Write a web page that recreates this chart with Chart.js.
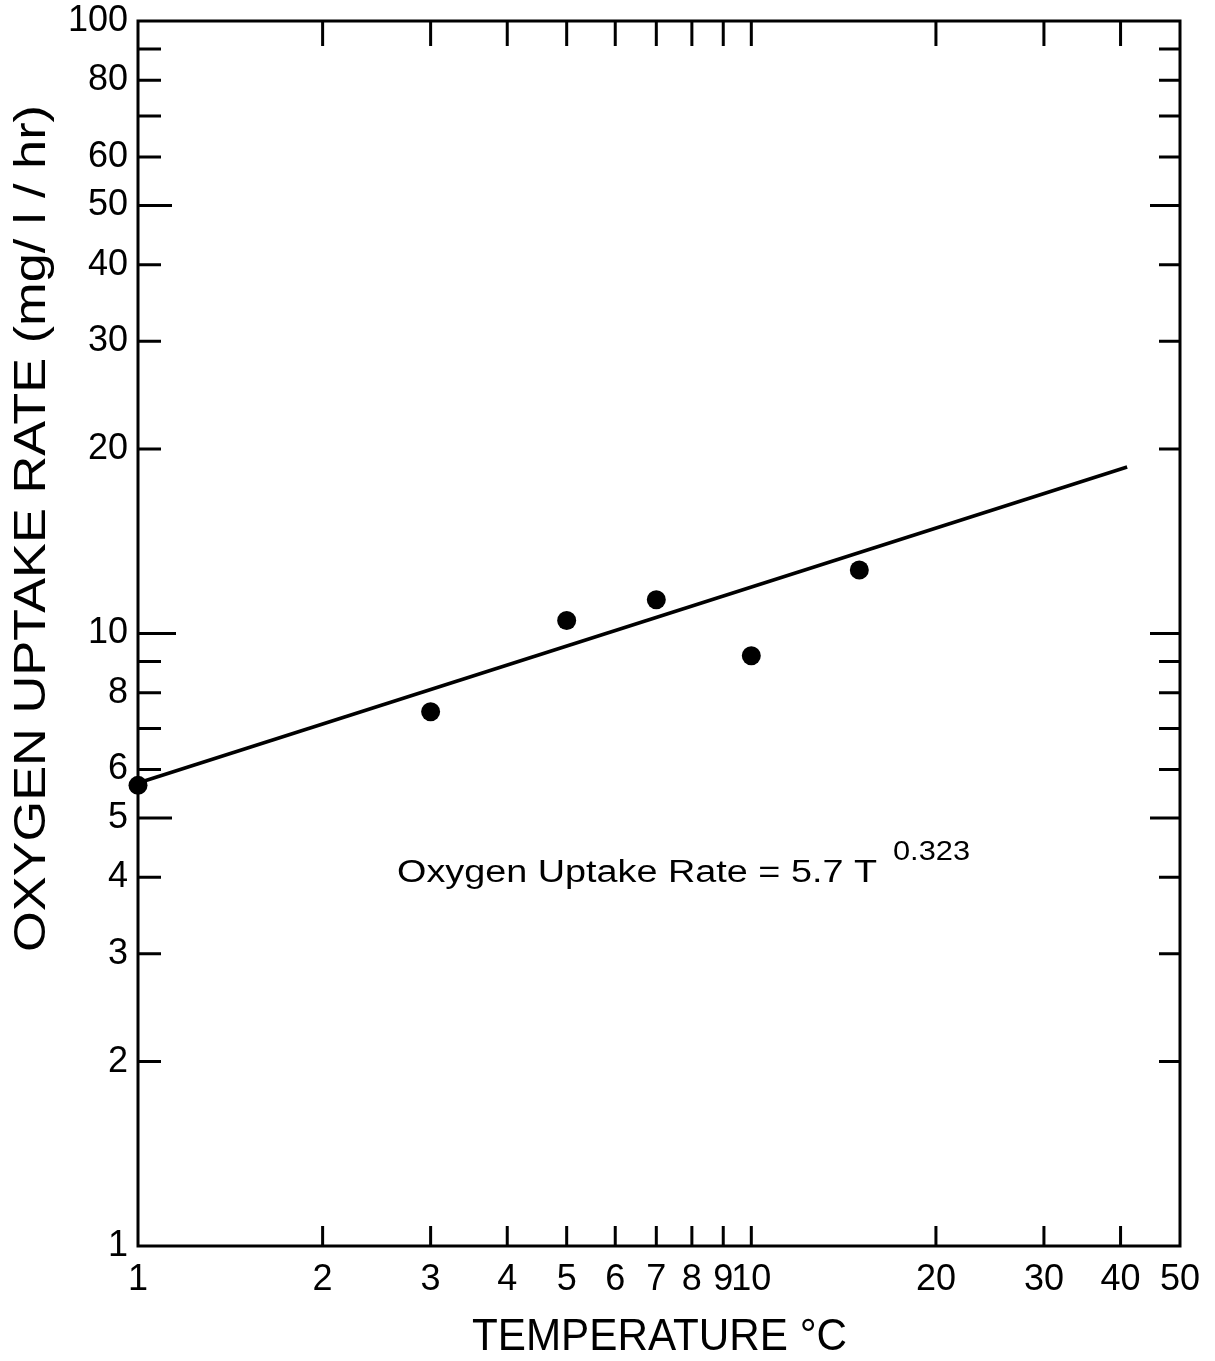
<!DOCTYPE html>
<html>
<head>
<meta charset="utf-8">
<script src="https://cdn.jsdelivr.net/npm/chart.js@4.4.1/dist/chart.umd.min.js"></script>
<style>
  html, body { margin: 0; padding: 0; background: #fff; }
  canvas { display: block; }
</style>
</head>
<body>
<canvas id="c" width="1215" height="1361"></canvas>
<script>
// ---- data ----
const tempC = [1, 3, 5, 7, 10, 15];
const uptakeRate = [5.65, 7.45, 10.5, 11.35, 9.2, 12.7];
const fitTemp = [1, 41];
const fitRate = [5.7, 18.7];

const xTickValues = [1, 2, 3, 4, 5, 6, 7, 8, 9, 10, 20, 30, 40, 50];
const xTickLabels = ['1', '2', '3', '4', '5', '6', '7', '8', '9', '10', '20', '30', '40', '50'];
const yTickValues = [1, 2, 3, 4, 5, 6, 7, 8, 9, 10, 20, 30, 40, 50, 60, 70, 80, 90, 100];
const yTickLabels = ['1', '2', '3', '4', '5', '6', '', '8', '', '10', '20', '30', '40', '50', '60', '', '80', '', '100'];

const xTitle = 'TEMPERATURE °C';
const yTitle = 'OXYGEN UPTAKE RATE (mg/ l / hr)';
const equationText = 'Oxygen Uptake Rate = 5.7 T';
const equationExp = '0.323';

const FAMILY = "'Liberation Sans', Arial, sans-serif";

function fitText(ctx, text, x, y, targetW) {
  const w = ctx.measureText(text).width;
  ctx.save();
  ctx.translate(x, y);
  ctx.scale(targetW / w, 1);
  ctx.fillText(text, 0, 0);
  ctx.restore();
}

const framePlugin = {
  id: 'frame',
  afterDatasetsDraw(chart) {
    const { ctx, chartArea: a, scales } = chart;
    const xs = scales.x, ys = scales.y;
    ctx.save();
    ctx.strokeStyle = '#000';
    ctx.lineCap = 'butt';
    ctx.lineWidth = 3;
    xTickValues.forEach(v => {
      if (v === 1 || v === 50) return;
      const px = xs.getPixelForValue(v);
      ctx.beginPath();
      ctx.moveTo(px, a.bottom); ctx.lineTo(px, a.bottom - 20);
      ctx.moveTo(px, a.top); ctx.lineTo(px, a.top + 25);
      ctx.stroke();
    });
    yTickValues.forEach(v => {
      if (v === 1 || v === 100) return;
      const py = ys.getPixelForValue(v);
      const m = Math.round(v / Math.pow(10, Math.floor(Math.log10(v) + 1e-9)));
      const lenL = m === 1 ? 38 : (m === 5 ? 34 : 23);
      const lenR = m === 1 ? 30 : (m === 5 ? 30 : 21);
      ctx.beginPath();
      ctx.moveTo(a.left, py); ctx.lineTo(a.left + lenL, py);
      ctx.moveTo(a.right, py); ctx.lineTo(a.right - lenR, py);
      ctx.stroke();
    });
    ctx.lineWidth = 3;
    ctx.strokeRect(a.left, a.top, a.right - a.left, a.bottom - a.top);

    ctx.fillStyle = '#000';
    ctx.textBaseline = 'alphabetic';
    ctx.textAlign = 'left';
    ctx.font = '45px ' + FAMILY;
    fitText(ctx, xTitle, 472, 1350, 375);

    ctx.save();
    ctx.translate(45, 952);
    ctx.rotate(-Math.PI / 2);
    ctx.font = '45px ' + FAMILY;
    fitText(ctx, yTitle, 0, 0, 847);
    ctx.restore();

    ctx.font = '31px ' + FAMILY;
    fitText(ctx, equationText, 397, 882, 480);
    ctx.font = '27px ' + FAMILY;
    fitText(ctx, equationExp, 893, 860, 77);
    ctx.restore();
  }
};

new Chart(document.getElementById('c'), {
  type: 'scatter',
  data: {
    datasets: [
      {
        type: 'line',
        data: fitTemp.map((t, i) => ({ x: t, y: fitRate[i] })),
        borderColor: '#000',
        borderWidth: 3.5,
        pointRadius: 0,
        fill: false,
        tension: 0,
        clip: false
      },
      {
        data: tempC.map((t, i) => ({ x: t, y: uptakeRate[i] })),
        backgroundColor: '#000',
        borderColor: '#000',
        borderWidth: 0,
        pointRadius: 9.5,
        clip: false
      }
    ]
  },
  options: {
    responsive: false,
    animation: false,
    devicePixelRatio: 1,
    layout: { padding: { top: 21, right: 35, bottom: 0, left: 0 } },
    plugins: { legend: { display: false }, tooltip: { enabled: false } },
    scales: {
      x: {
        type: 'logarithmic',
        position: 'bottom',
        min: 1, max: 50,
        grid: { display: false, drawTicks: false },
        border: { display: false },
        afterBuildTicks: s => { s.ticks = xTickValues.map(v => ({ value: v })); },
        afterFit: s => { s.height = 115; s.paddingLeft = 0; s.paddingRight = 0; },
        ticks: {
          autoSkip: false, maxRotation: 0, minRotation: 0,
          padding: 12, color: '#000',
          font: { family: FAMILY, size: 36 },
          callback: v => { const i = xTickValues.indexOf(v); return i >= 0 ? xTickLabels[i] : ''; }
        }
      },
      y: {
        type: 'logarithmic',
        position: 'left',
        min: 1, max: 100,
        grid: { display: false, drawTicks: false },
        border: { display: false },
        afterBuildTicks: s => { s.ticks = yTickValues.map(v => ({ value: v })); },
        afterFit: s => { s.width = 138; s.paddingTop = 0; s.paddingBottom = 0; },
        ticks: {
          autoSkip: false, padding: 10, color: '#000',
          font: { family: FAMILY, size: 36 },
          callback: v => { const i = yTickValues.indexOf(v); return i >= 0 ? yTickLabels[i] : ''; }
        }
      }
    }
  },
  plugins: [framePlugin]
});
</script>
</body>
</html>
